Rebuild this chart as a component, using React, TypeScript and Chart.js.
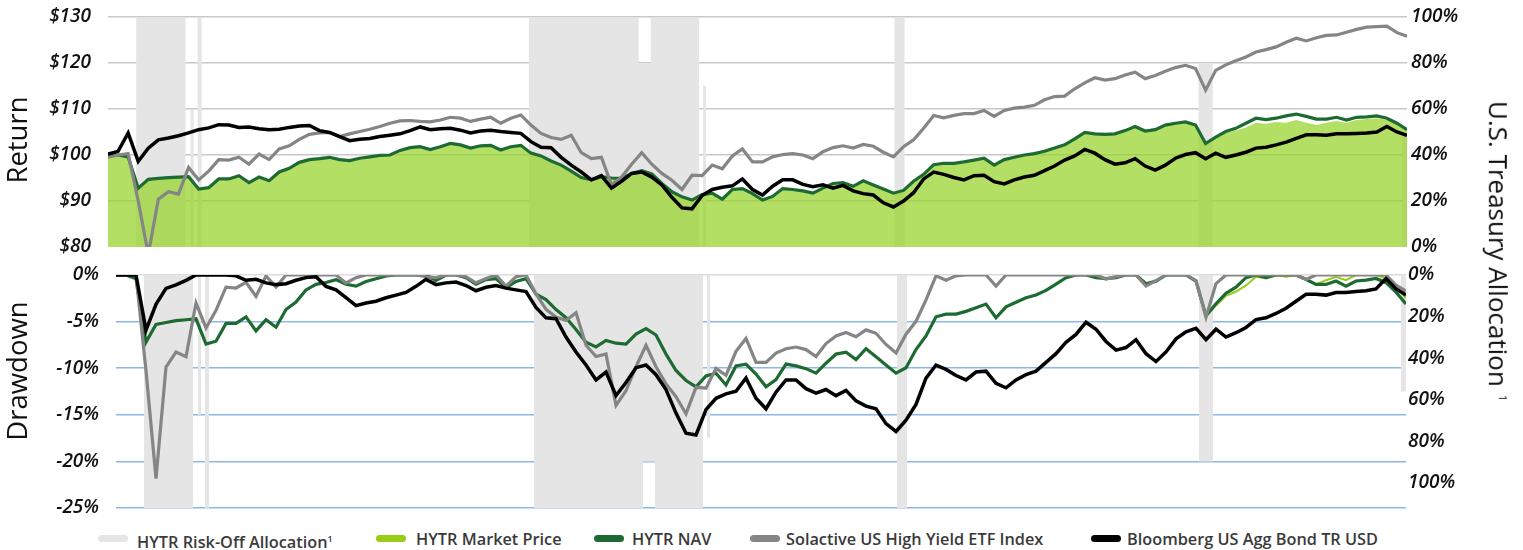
import React, { useEffect, useRef } from "react";
import { Chart, registerables } from "chart.js";

Chart.register(...registerables);

// ---- Growth of $100 (sampled, one value per step) ----
const hytrMarketPrice = [
  100.0, 100.0, 99.6, 92.8, 94.7, 94.9, 95.1, 95.2, 95.3, 92.6,
  92.9, 94.8, 94.8, 95.5, 94.0, 95.2, 94.4, 96.3, 97.1, 98.4,
  99.0, 99.2, 99.5, 99.0, 98.8, 99.3, 99.6, 99.9, 100.0, 101.0,
  101.6, 101.8, 101.2, 101.8, 102.5, 102.2, 101.5, 102.0, 102.1, 101.1,
  101.8, 102.1, 100.4, 99.8, 98.7, 97.8, 96.5, 95.1, 94.6, 95.3,
  95.0, 94.9, 96.0, 96.6, 95.9, 93.8, 92.0, 90.9, 90.2, 91.4,
  91.7, 90.4, 92.5, 92.7, 91.6, 90.2, 91.0, 92.7, 92.5, 92.2,
  91.7, 92.8, 93.8, 94.0, 93.2, 94.4, 93.5, 92.6, 91.7, 92.3,
  94.3, 95.8, 97.9, 98.2, 98.2, 98.5, 98.9, 99.3, 97.8, 99.0,
  99.5, 100.0, 100.3, 100.8, 101.5, 102.2, 103.5, 104.9, 104.6, 104.5,
  104.6, 105.3, 106.2, 105.2, 105.5, 106.5, 106.9, 107.2, 106.5, 102.5,
  103.7, 104.8, 105.3, 106.0, 107.0, 106.8, 107.2, 107.0, 107.6, 107.0,
  106.5, 107.0, 107.4, 107.0, 107.6, 107.8, 108.0, 107.6, 106.7, 105.3,
];

const hytrNav = [
  100.0, 100.0, 99.6, 92.8, 94.7, 94.9, 95.1, 95.2, 95.3, 92.6,
  92.9, 94.8, 94.8, 95.5, 94.0, 95.2, 94.4, 96.3, 97.1, 98.4,
  99.0, 99.2, 99.5, 99.0, 98.8, 99.3, 99.6, 99.9, 100.0, 101.0,
  101.6, 101.8, 101.2, 101.8, 102.5, 102.2, 101.5, 102.0, 102.1, 101.1,
  101.8, 102.1, 100.4, 99.8, 98.7, 97.8, 96.5, 95.1, 94.6, 95.3,
  95.0, 94.9, 96.0, 96.6, 95.9, 93.8, 92.0, 90.9, 90.2, 91.4,
  91.7, 90.4, 92.5, 92.7, 91.6, 90.2, 91.0, 92.7, 92.5, 92.2,
  91.7, 92.8, 93.8, 94.0, 93.2, 94.4, 93.5, 92.6, 91.7, 92.3,
  94.3, 95.8, 97.9, 98.2, 98.2, 98.5, 98.9, 99.3, 97.8, 99.0,
  99.5, 100.0, 100.3, 100.8, 101.5, 102.2, 103.5, 104.9, 104.6, 104.5,
  104.6, 105.3, 106.2, 105.2, 105.5, 106.5, 106.9, 107.2, 106.5, 102.5,
  103.9, 105.1, 105.8, 106.9, 108.0, 107.7, 108.0, 108.5, 108.9, 108.4,
  107.8, 107.8, 108.2, 107.6, 108.2, 108.3, 108.5, 108.0, 106.9, 105.5,
];

const solactiveHy = [
  99.5, 100.0, 100.3, 90.0, 78.4, 90.4, 92.0, 91.5, 97.3, 94.6,
  96.5, 99.0, 98.9, 99.5, 98.0, 100.2, 99.0, 101.3, 102.0, 103.4,
  104.5, 104.8, 104.9, 104.0, 104.6, 105.1, 105.6, 106.2, 106.9, 107.4,
  107.5, 107.3, 107.2, 107.6, 108.2, 108.0, 107.3, 107.8, 108.2, 106.9,
  108.0, 108.7, 106.5, 104.7, 103.8, 103.4, 104.3, 100.5, 99.2, 99.5,
  93.5, 95.2, 98.0, 100.5, 98.0, 96.0, 94.5, 92.5, 95.6, 95.5,
  97.8, 97.0, 99.8, 101.3, 98.5, 98.5, 99.6, 100.1, 100.3, 100.0,
  99.2, 100.7, 101.6, 102.0, 101.5, 102.3, 101.9, 100.6, 99.6, 101.8,
  103.3, 105.8, 108.6, 108.1, 108.6, 109.0, 109.0, 109.7, 108.4, 109.7,
  110.2, 110.4, 110.8, 112.0, 112.7, 112.8, 114.4, 115.7, 116.8, 116.3,
  116.6, 117.4, 118.0, 116.6, 117.3, 118.2, 119.0, 119.5, 118.8, 114.1,
  118.4, 119.6, 120.5, 121.3, 122.4, 122.9, 123.5, 124.5, 125.4, 124.8,
  125.5, 126.0, 126.1, 126.7, 127.3, 127.8, 127.9, 128.0, 126.6, 125.8,
];

const bloombergAgg = [
  100.2, 100.8, 104.8, 98.6, 101.5, 103.3, 103.7, 104.2, 104.8, 105.5,
  105.9, 106.6, 106.5, 106.0, 106.1, 105.7, 105.5, 105.6, 106.0, 106.3,
  106.4, 105.3, 104.9, 104.0, 103.1, 103.4, 103.6, 104.0, 104.3, 104.6,
  105.3, 106.1, 105.5, 105.7, 105.8, 105.4, 104.8, 105.2, 105.4, 105.1,
  104.9, 104.7, 102.9, 101.7, 101.6, 99.5, 97.8, 96.3, 94.6, 95.5,
  92.8, 94.3, 96.0, 96.3, 95.2, 93.5, 90.8, 88.5, 88.3, 91.2,
  92.5, 93.0, 93.3, 94.8, 92.5, 91.3, 93.2, 94.6, 94.6, 93.6,
  93.1, 93.5, 92.8, 93.4, 92.2, 91.6, 91.3, 89.6, 88.7, 90.0,
  91.8, 94.8, 96.3, 95.8, 95.1, 94.6, 95.5, 95.6, 94.2, 93.7,
  94.6, 95.2, 95.6, 96.6, 97.6, 98.9, 99.8, 101.2, 100.4, 99.0,
  98.0, 98.3, 99.2, 97.6, 96.7, 97.8, 99.3, 100.1, 100.5, 99.2,
  100.4, 99.5, 100.0, 100.6, 101.5, 101.7, 102.2, 102.8, 103.6, 104.4,
  104.4, 104.3, 104.6, 104.6, 104.7, 104.8, 105.0, 106.2, 105.0, 104.3,
];

// ---- HYTR risk-off (U.S. Treasury) allocation periods, in sample steps ----
const riskOffStart = [2.8, 8.2, 8.9, 41.8, 52.7, 53.9, 59.1, 78.1, 108.3, 128.5];
const riskOffEnd = [7.7, 8.5, 9.3, 52.7, 53.9, 58.7, 59.4, 79.1, 109.7, 129];
const riskOffPct = [100, 60, 100, 100, 80, 100, 70, 100, 80, 50];

// ---- axis ticks ----
const returnMin = 80;
const returnMax = 130;
const returnStep = 10;
const drawdownMin = -25;
const drawdownMax = 0;
const drawdownStep = 5;
const allocStep = 20;

const FONT = "'Open Sans', 'DejaVu Sans', sans-serif";
const TICK_FONT = { family: FONT, size: 19, style: "italic" as const, weight: "600" as const };
const LAST = hytrNav.length - 1;

function toPoints(arr: number[]) {
  return arr.map((v, i) => ({ x: i, y: v }));
}

function toDrawdown(arr: number[]) {
  let peak = -Infinity;
  return arr.map((v, i) => {
    peak = Math.max(peak, v);
    return { x: i, y: (v / peak - 1) * 100 };
  });
}

function allocPoints() {
  const pts: { x: number; y: number }[] = [{ x: 0, y: 0 }];
  for (let k = 0; k < riskOffStart.length; k++) {
    pts.push({ x: riskOffStart[k], y: 0 });
    pts.push({ x: riskOffStart[k], y: riskOffPct[k] });
    pts.push({ x: riskOffEnd[k], y: riskOffPct[k] });
    pts.push({ x: riskOffEnd[k], y: 0 });
  }
  pts.push({ x: LAST, y: 0 });
  return pts;
}

const C_ALLOC = "#e5e5e5";
const C_MARKET = "#99cc14";
const C_NAV = "#1d6b33";
const C_SOL = "#858585";
const C_BBG = "#000000";

const fitWidth = (w: number) => (s: any) => {
  s.width = w;
  s.paddingTop = 0;
  s.paddingBottom = 0;
};

export default function App() {
  const topRef = useRef<HTMLCanvasElement>(null);
  const botRef = useRef<HTMLCanvasElement>(null);

  useEffect(() => {
    const lineBase = {
      pointRadius: 0,
      pointHoverRadius: 0,
      tension: 0,
      fill: false,
    };
    const top = new Chart(topRef.current as HTMLCanvasElement, {
      type: "line",
      data: {
        datasets: [
          { ...lineBase, label: "Bloomberg", data: toPoints(bloombergAgg), borderColor: C_BBG, borderWidth: 3.5, yAxisID: "y" },
          { ...lineBase, label: "Solactive", data: toPoints(solactiveHy), borderColor: C_SOL, borderWidth: 3.2, yAxisID: "y" },
          { ...lineBase, label: "NAV", data: toPoints(hytrNav), borderColor: C_NAV, borderWidth: 3.2, yAxisID: "y" },
          {
            ...lineBase, label: "Market", data: toPoints(hytrMarketPrice), borderColor: "rgba(0,0,0,0)", borderWidth: 0,
            fill: "start", backgroundColor: "rgba(150,210,40,0.72)", yAxisID: "y",
          },
          {
            ...lineBase, label: "Alloc", data: allocPoints(), borderColor: "rgba(0,0,0,0)", borderWidth: 0,
            fill: "origin", backgroundColor: C_ALLOC, yAxisID: "alloc",
          },
        ],
      },
      options: {
        responsive: false,
        animation: false,
        events: [],
        layout: { padding: { top: 17, bottom: 15, left: 0, right: 0 } },
        plugins: { legend: { display: false }, tooltip: { enabled: false } },
        scales: {
          x: { type: "linear", min: 0, max: LAST, display: false },
          y: {
            position: "left",
            min: returnMin,
            max: returnMax,
            ticks: { stepSize: returnStep, callback: (v: any) => "$" + v, font: TICK_FONT, color: "#111", padding: 17 },
            grid: {
              color: (ctx: any) => (ctx.tick && ctx.tick.value === returnMin ? "rgba(0,0,0,0)" : "#c8c8c8"),
              lineWidth: 1.5,
              drawTicks: false,
            },
            border: { display: false },
            afterFit: fitWidth(108),
          },
          alloc: {
            position: "right",
            min: 0,
            max: 100,
            ticks: { stepSize: allocStep, callback: (v: any) => v + "%", font: TICK_FONT, color: "#111", padding: 4 },
            grid: { display: false, drawTicks: false },
            border: { display: false },
            afterFit: fitWidth(116),
          },
        },
      } as any,
    });

    const bot = new Chart(botRef.current as HTMLCanvasElement, {
      type: "line",
      data: {
        datasets: [
          { ...lineBase, label: "Bloomberg", data: toDrawdown(bloombergAgg), borderColor: C_BBG, borderWidth: 3.5, yAxisID: "y" },
          { ...lineBase, label: "Solactive", data: toDrawdown(solactiveHy), borderColor: C_SOL, borderWidth: 3.2, yAxisID: "y" },
          { ...lineBase, label: "NAV", data: toDrawdown(hytrNav), borderColor: C_NAV, borderWidth: 3.2, yAxisID: "y" },
          { ...lineBase, label: "Market", data: toDrawdown(hytrMarketPrice), borderColor: C_MARKET, borderWidth: 2, yAxisID: "y" },
          {
            ...lineBase, label: "Alloc", data: allocPoints(), borderColor: "rgba(0,0,0,0)", borderWidth: 0,
            fill: "origin", backgroundColor: C_ALLOC, yAxisID: "alloc",
          },
        ],
      },
      options: {
        responsive: false,
        animation: false,
        events: [],
        layout: { padding: { top: 13, bottom: 16, left: 0, right: 0 } },
        plugins: { legend: { display: false }, tooltip: { enabled: false } },
        scales: {
          x: { type: "linear", min: 0, max: LAST, display: false },
          y: {
            position: "left",
            min: drawdownMin,
            max: drawdownMax,
            ticks: { stepSize: drawdownStep, callback: (v: any) => v + "%", font: TICK_FONT, color: "#111", padding: 17 },
            grid: {
              color: (ctx: any) => (ctx.tick && ctx.tick.value === 0 ? "#dcdcdc" : "#8db8e8"),
              lineWidth: 1.5,
              drawTicks: false,
            },
            border: { display: false },
            afterFit: fitWidth(116),
          },
          pct: {
            position: "right",
            min: 0,
            max: 112,
            reverse: true,
            ticks: {
              stepSize: allocStep,
              includeBounds: false,
              callback: (v: any) => (v <= 100 ? v + "%" : ""),
              font: TICK_FONT,
              color: "#111",
              padding: 2,
            },
            grid: { display: false, drawTicks: false },
            border: { display: false },
            afterFit: fitWidth(117),
          },
          alloc: { min: 0, max: 100, reverse: true, display: false },
        },
      } as any,
    });

    return () => {
      top.destroy();
      bot.destroy();
    };
  }, []);

  const legendText: React.CSSProperties = {
    position: "absolute",
    top: 528,
    fontSize: 16.3,
    fontWeight: 600,
    color: "#3a3a3a",
    fontFamily: FONT,
    whiteSpace: "nowrap",
    lineHeight: "22px",
  };
  const swatch = (left: number, color: string): React.CSSProperties => ({
    position: "absolute",
    left,
    top: 535,
    width: 30,
    height: 7,
    borderRadius: 4,
    background: color,
  });
  const title: React.CSSProperties = {
    position: "absolute",
    fontSize: 27.5,
    color: "#111",
    whiteSpace: "nowrap",
    lineHeight: "30px",
  };

  return (
    <div style={{ position: "absolute", left: 0, top: 0, width: 1523, height: 550, background: "#fff", fontFamily: FONT }}>
      <canvas ref={topRef} width={1523} height={262} style={{ position: "absolute", left: 0, top: 0, width: 1523, height: 262 }} />
      <canvas ref={botRef} width={1523} height={262} style={{ position: "absolute", left: 0, top: 262, width: 1523, height: 262 }} />

      <div style={{ ...title, left: 17, top: 140, transform: "translate(-50%,-50%) rotate(-90deg)" }}>Return</div>
      <div style={{ ...title, left: 17, top: 371, transform: "translate(-50%,-50%) rotate(-90deg)" }}>Drawdown</div>
      <div style={{ ...title, fontSize: 26, left: 1501, top: 251, transform: "translate(-50%,-50%) rotate(90deg)" }}>
        U.S. Treasury Allocation<sup style={{ fontSize: 11, marginLeft: 8 }}>1</sup>
      </div>

      <div style={swatch(98, C_ALLOC)} />
      <div style={{ ...legendText, left: 137 }}>
        HYTR Risk-Off Allocation<sup style={{ fontSize: 9 }}>1</sup>
      </div>
      <div style={swatch(376, C_MARKET)} />
      <div style={{ ...legendText, left: 416 }}>HYTR Market Price</div>
      <div style={swatch(594, C_NAV)} />
      <div style={{ ...legendText, left: 632 }}>HYTR NAV</div>
      <div style={swatch(750, C_SOL)} />
      <div style={{ ...legendText, left: 786 }}>Solactive US High Yield ETF Index</div>
      <div style={swatch(1091, C_BBG)} />
      <div style={{ ...legendText, left: 1127 }}>Bloomberg US Agg Bond TR USD</div>
    </div>
  );
}
